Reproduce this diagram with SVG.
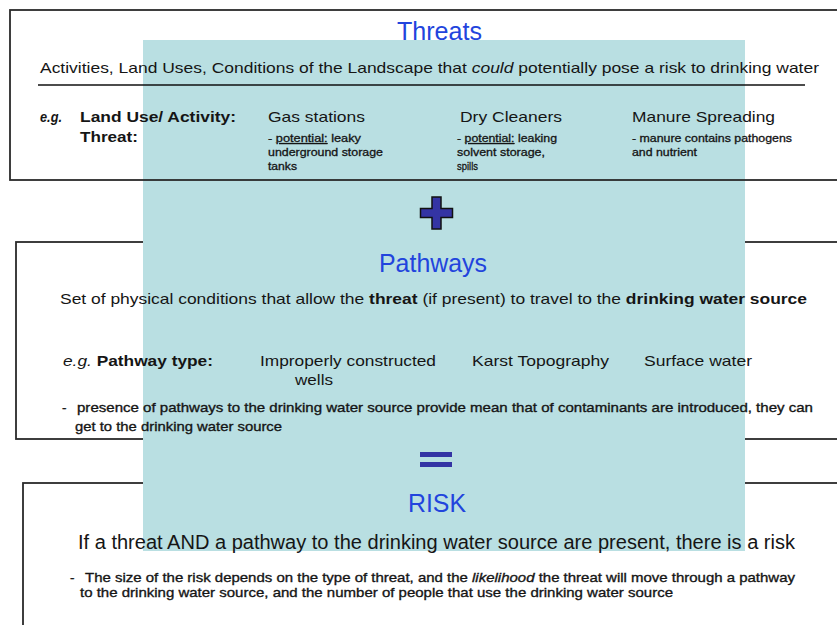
<svg xmlns="http://www.w3.org/2000/svg" width="837" height="625" viewBox="0 0 837 625">
<style>
  text { font-family: "Liberation Sans", Arial, sans-serif; fill: #151515; }
  .title { font-size: 25px; fill: #2244dd; }
  .lbl { font-size: 15px; }
  .sm { font-size: 10.5px; stroke: #151515; stroke-width: 0.3; }
  .desc { font-size: 13.5px; stroke: #151515; stroke-width: 0.35; }
  .b { font-weight: bold; }
  .i { font-style: italic; }
  .u { text-decoration: underline; }
  .box { fill: none; stroke: #2a2a2a; stroke-width: 1.8; }
  .op { fill: #3434a4; }
</style>
<rect width="837" height="625" fill="#ffffff"/>

<!-- boxes that lie beneath the overlay -->
<rect class="box" x="16" y="242" width="840" height="197"/>
<rect class="box" x="23" y="483" width="840" height="160"/>

<!-- teal overlay -->
<rect id="overlay" x="143" y="40" width="602" height="511" fill="#b9dfe2"/>

<g id="threats">
  <rect class="box" x="10" y="10" width="840" height="170"/>
  <text class="title" x="397" y="40" textLength="85" lengthAdjust="spacingAndGlyphs">Threats</text>
  <text class="lbl" x="40" y="73" textLength="779" lengthAdjust="spacingAndGlyphs">Activities, Land Uses, Conditions of the Landscape that <tspan class="i">could</tspan> potentially pose a risk to drinking water</text>
  <line x1="38" y1="85" x2="805" y2="85" stroke="#111" stroke-width="1.6"/>
  <text class="lbl i b" x="40" y="122" textLength="22" lengthAdjust="spacingAndGlyphs">e.g.</text>
  <text class="lbl b" x="80" y="122" textLength="156" lengthAdjust="spacingAndGlyphs">Land Use/ Activity:</text>
  <text class="lbl b" x="80" y="142" textLength="58" lengthAdjust="spacingAndGlyphs">Threat:</text>
  <text class="lbl" x="268" y="122" textLength="97" lengthAdjust="spacingAndGlyphs">Gas stations</text>
  <text class="lbl" x="460" y="122" textLength="102" lengthAdjust="spacingAndGlyphs">Dry Cleaners</text>
  <text class="lbl" x="632" y="122" textLength="143" lengthAdjust="spacingAndGlyphs">Manure Spreading</text>
  <text class="sm" x="268" y="142" textLength="93" lengthAdjust="spacingAndGlyphs">- <tspan class="u">potential:</tspan> leaky</text>
  <text class="sm" x="268" y="156" textLength="115" lengthAdjust="spacingAndGlyphs">underground storage</text>
  <text class="sm" x="268" y="170" textLength="29" lengthAdjust="spacingAndGlyphs">tanks</text>
  <text class="sm" x="457" y="142" textLength="100" lengthAdjust="spacingAndGlyphs">- <tspan class="u">potential:</tspan> leaking</text>
  <text class="sm" x="457" y="156" textLength="88" lengthAdjust="spacingAndGlyphs">solvent storage,</text>
  <text class="sm" x="457" y="170" textLength="21" lengthAdjust="spacingAndGlyphs">spills</text>
  <text class="sm" x="632" y="142" textLength="160" lengthAdjust="spacingAndGlyphs">- manure contains pathogens</text>
  <text class="sm" x="632" y="156" textLength="65" lengthAdjust="spacingAndGlyphs">and nutrient</text>
</g>

<g id="operators">
  <polygon id="plus" class="op" stroke="#111" stroke-width="1.5" points="432,197 441,197 441,208.5 452.5,208.5 452.5,217.5 441,217.5 441,229 432,229 432,217.5 420.5,217.5 420.5,208.5 432,208.5"/>
  <g id="equals">
    <rect class="op" x="420" y="452" width="32" height="5"/>
    <rect class="op" x="420" y="462" width="32" height="5"/>
  </g>
</g>

<g id="pathways">
  <text class="title" x="379" y="272" textLength="108" lengthAdjust="spacingAndGlyphs">Pathways</text>
  <text class="lbl" x="60" y="304" textLength="747" lengthAdjust="spacingAndGlyphs">Set of physical conditions that allow the <tspan class="b">threat</tspan> (if present) to travel to the <tspan class="b">drinking water source</tspan></text>
  <text class="lbl" x="63" y="366" textLength="150" lengthAdjust="spacingAndGlyphs"><tspan class="i">e.g.</tspan> <tspan class="b">Pathway type:</tspan></text>
  <text class="lbl" x="260" y="366" textLength="176" lengthAdjust="spacingAndGlyphs">Improperly constructed</text>
  <text class="lbl" x="295" y="385" textLength="38" lengthAdjust="spacingAndGlyphs">wells</text>
  <text class="lbl" x="472" y="366" textLength="137" lengthAdjust="spacingAndGlyphs">Karst Topography</text>
  <text class="lbl" x="644" y="366" textLength="108" lengthAdjust="spacingAndGlyphs">Surface water</text>
  <text class="desc" x="62" y="412">-</text>
  <text class="desc" x="77" y="412" textLength="736" lengthAdjust="spacingAndGlyphs">presence of pathways to the drinking water source provide mean that of contaminants are introduced, they can</text>
  <text class="desc" x="75" y="431" textLength="207" lengthAdjust="spacingAndGlyphs">get to the drinking water source</text>
</g>

<g id="risk">
  <text class="title" x="408" y="512" textLength="58" lengthAdjust="spacingAndGlyphs">RISK</text>
  <text x="78" y="549" font-size="20" textLength="717" lengthAdjust="spacingAndGlyphs">If a threat AND a pathway to the drinking water source are present, there is a risk</text>
  <text class="desc" x="70" y="582">-</text>
  <text class="desc" x="85" y="582" textLength="710" lengthAdjust="spacingAndGlyphs">The size of the risk depends on the type of threat, and the <tspan class="i">likelihood</tspan> the threat will move through a pathway</text>
  <text class="desc" x="80" y="597" textLength="593" lengthAdjust="spacingAndGlyphs">to the drinking water source, and the number of people that use the drinking water source</text>
</g>

<g id="connectors"/>
</svg>
